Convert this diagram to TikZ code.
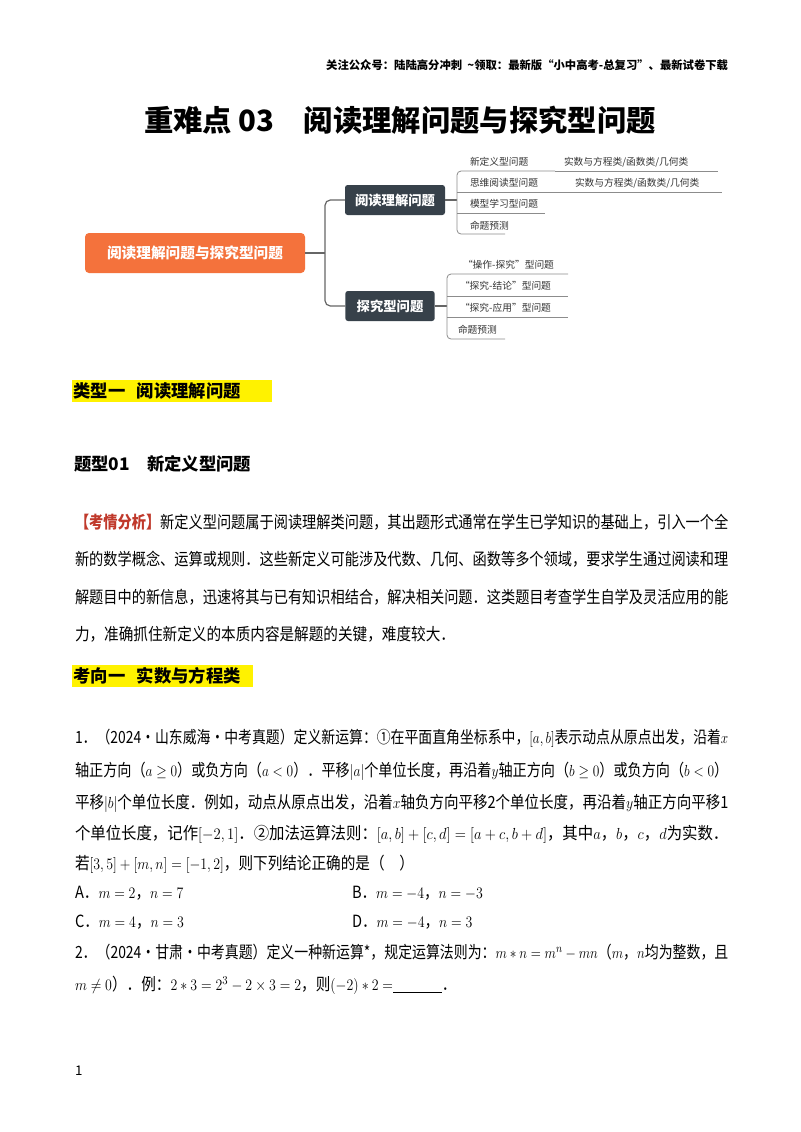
\documentclass[tikz,border=0pt]{standalone}
\usepackage{fontspec}
\usepackage{graphicx}
\setmainfont{Noto Sans CJK SC}
\newcommand{\fl}[1]{\resizebox{490pt}{\height}{#1}}
\newcommand{\pl}[1]{\scalebox{0.87}[1]{#1}}
\begin{document}
\begin{tikzpicture}[x=0.75pt,y=-0.75pt,
  every node/.style={inner sep=0pt,outer sep=0pt},
  txt/.style={anchor=base west,font=\fontsize{12.6pt}{14pt}\selectfont},
  small/.style={anchor=base west,font=\fontsize{7.3pt}{8pt}\selectfont,text=black!80},
  ul/.style={draw=black!45,line width=0.6pt},
  br/.style={draw=black!60,line width=0.9pt,rounded corners=4},
  darkbox/.style={fill=dark,rounded corners=2,text=white,font=\fontsize{10pt}{12pt}\selectfont\bfseries,minimum height=22.5pt},
  hl/.style={fill=yellow,inner sep=1pt,anchor=west,font=\fontsize{13pt}{15pt}\selectfont\bfseries}]
\definecolor{dark}{HTML}{37414A}
\definecolor{orng}{HTML}{F4723C}
\definecolor{tag}{HTML}{C0392B}
\useasboundingbox[fill=white] (0,0) rectangle (800,1132);
% header
\node[anchor=base east,font=\fontsize{8.5pt}{10pt}\selectfont\bfseries] (hdr) at (728,69) {关注公众号：陆陆高分冲刺\ \ \textasciitilde 领取：最新版“小中高考-总复习”、最新试卷下载};
\node[font=\fontsize{22pt}{26pt}\selectfont\bfseries] (title) at (400,120) {重难点 03\quad 阅读理解问题与探究型问题};
% mind map
\node[fill=orng,rounded corners=3,text=white,font=\fontsize{11pt}{13pt}\selectfont\bfseries,minimum width=165pt,minimum height=30pt] (root) at (195,253) {阅读理解问题与探究型问题};
\node[darkbox,minimum width=75pt] (b1) at (395,200) {阅读理解问题};
\node[darkbox,minimum width=67pt] (b2) at (390,306) {探究型问题};
\coordinate (j) at (325,253);
\draw[br] (root.east) -- (j);
\draw[br] (b1.west) -| (j) |- (b2.west);
% branch 1
\coordinate (v1a) at (457,171);
\coordinate (v1b) at (457,234);
\draw[br] (b1.east) -- (457,200);
\draw[ul,rounded corners=3] (555,171) -- (v1a) -- (v1b) -- (505,234);
\draw[ul] (457,192) -- (722,192);
\draw[ul] (457,213) -- (545,213);
\draw[ul] (555,171) -- (718,171);
\node[small] (n11) at (470,165) {新定义型问题};
\node[small] (n11r) at (564,165) {实数与方程类/函数类/几何类};
\node[small] (n12) at (470,186) {思维阅读型问题};
\node[small] (n12r) at (575,186) {实数与方程类/函数类/几何类};
\node[small] (n13) at (470,207) {模型学习型问题};
\node[small] (n14) at (470,229) {命题预测};
% branch 2
\coordinate (v2a) at (447,274);
\coordinate (v2b) at (447,339);
\draw[br] (b2.east) -- (447,306);
\draw[ul,rounded corners=3] (568,274) -- (v2a) -- (v2b) -- (505,339);
\draw[ul] (447,296) -- (568,296);
\draw[ul] (447,317) -- (568,317);
\node[small] (n21) at (463,268) {“操作-探究”型问题};
\node[small] (n22) at (460,289) {“探究-结论”型问题};
\node[small] (n23) at (460,311) {“探究-应用”型问题};
\node[small] (n24) at (458,333) {命题预测};
% headings
\node[hl,minimum height=17pt,align=left,text width=148pt] (h1) at (72,391) {类型一\ \ 阅读理解问题};
\node[anchor=west,font=\fontsize{13pt}{15pt}\selectfont\bfseries] (h2) at (74,464) {题型01\quad 新定义型问题};
\node[hl,minimum height=17pt,text width=134pt,align=left] (h3) at (72,676) {考向一\ \ 实数与方程类};
% paragraph
\node[txt] (p1) at (75,528) {\fl{{\color{tag}\bfseries 【考情分析】}新定义型问题属于阅读理解类问题，其出题形式通常在学生已学知识的基础上，引入一个全}};
\node[txt] (p2) at (75,565) {\fl{新的数学概念、运算或规则．这些新定义可能涉及代数、几何、函数等多个领域，要求学生通过阅读和理}};
\node[txt] (p3) at (75,603) {\fl{解题目中的新信息，迅速将其与已有知识相结合，解决相关问题．这类题目考查学生自学及灵活应用的能}};
\node[txt] (p4) at (75,640) {\pl{力，准确抓住新定义的本质内容是解题的关键，难度较大．}};
% questions
\node[txt] (q1) at (75,743) {\fl{1．（2024·山东威海·中考真题）定义新运算：①在平面直角坐标系中，$\left[a,b\right]$表示动点从原点出发，沿着$x$}};
\node[txt] (q2) at (75,776) {\fl{轴正方向（$a\geq 0$）或负方向（$a<0$）．平移$\left|a\right|$个单位长度，再沿着$y$轴正方向（$b\geq0$）或负方向（$b<0$）}};
\node[txt] (q3) at (75,808) {\fl{平移$\left|b\right|$个单位长度．例如，动点从原点出发，沿着$x$轴负方向平移2个单位长度，再沿着$y$轴正方向平移1}};
\node[txt] (q4) at (75,839) {\fl{个单位长度，记作$\left[-2,1\right]$．②加法运算法则：$\left[a,b\right]+\left[c,d\right]=\left[a+c,b+d\right]$，其中$a$，$b$，$c$，$d$为实数．}};
\node[txt] (q5) at (75,869) {\pl{若$\left[3,5\right]+\left[m,n\right]=\left[-1,2\right]$，则下列结论正确的是（\quad ）}};
\node[txt] (qa) at (75,898) {\pl{A．$m=2$，$n=7$}};
\node[txt] (qb) at (352,898) {\pl{B．$m=-4$，$n=-3$}};
\node[txt] (qc) at (75,927) {\pl{C．$m=4$，$n=3$}};
\node[txt] (qd) at (352,927) {\pl{D．$m=-4$，$n=3$}};
\node[txt] (q6) at (75,958) {\fl{2．（2024·甘肃·中考真题）定义一种新运算*，规定运算法则为：$m*n=m^n-mn$（$m$，$n$均为整数，且}};
\node[txt] (q7) at (75,990) {\pl{$m\neq0$）．例：$2*3=2^3-2\times3=2$，则$\left(-2\right)*2=$\underline{\hspace{42pt}}．}};
\node[anchor=base west,font=\fontsize{10pt}{12pt}\selectfont] (pg) at (75,1075) {1};
\end{tikzpicture}
\end{document}
